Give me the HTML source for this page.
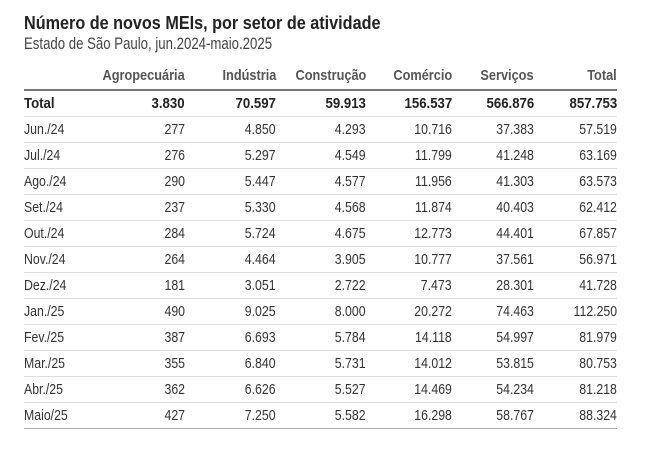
<!DOCTYPE html>
<html><head><meta charset="utf-8"><style>
body{margin:0;width:646px;height:452px;background:#fff;font-family:"Liberation Sans",sans-serif;color:#333;position:relative;overflow:hidden}
.t{position:absolute;left:24px;top:13px;font-size:18px;font-weight:bold;color:#222;transform:scaleX(.9);transform-origin:left}
.s{position:absolute;left:24px;top:35px;font-size:16.5px;color:#444;transform:scaleX(.8);transform-origin:left}
table{position:absolute;left:24px;top:62px;width:593px;border-collapse:collapse;font-size:15px;table-layout:fixed}
td,th{height:25px;padding:0;text-align:right;border-bottom:1px solid #ddd;white-space:nowrap}
th{color:#555;font-weight:bold;border-bottom:2px solid #777;height:27px;vertical-align:middle}
th div{display:flex;justify-content:flex-end}
td span,th span{display:inline-block;transform:scaleX(.82);transform-origin:right}
td:first-child span{transform-origin:left}
td:first-child,th:first-child{text-align:left}
tr.tot td{font-weight:bold;color:#222}
tr.tot td span{transform:scaleX(.88)}
th span{transform:scaleX(.85)}
tr:last-child td{border-bottom:1px solid #aaa}
</style></head><body>
<div class="t">Número de novos MEIs, por setor de atividade</div>
<div class="s">Estado de São Paulo, jun.2024-maio.2025</div>
<table>
<colgroup><col style="width:76px"><col style="width:85px"><col style="width:91px"><col style="width:90px"><col style="width:86px"><col style="width:82px"><col style="width:83px"></colgroup>
<tr><th></th><th><div><span>Agropecuária</span></div></th><th><div><span>Indústria</span></div></th><th><div><span>Construção</span></div></th><th><div><span>Comércio</span></div></th><th><div><span>Serviços</span></div></th><th><div><span>Total</span></div></th></tr>
<tr class="tot"><td><span>Total</span></td><td><span>3.830</span></td><td><span>70.597</span></td><td><span>59.913</span></td><td><span>156.537</span></td><td><span>566.876</span></td><td><span>857.753</span></td></tr>
<tr><td><span>Jun./24</span></td><td><span>277</span></td><td><span>4.850</span></td><td><span>4.293</span></td><td><span>10.716</span></td><td><span>37.383</span></td><td><span>57.519</span></td></tr>
<tr><td><span>Jul./24</span></td><td><span>276</span></td><td><span>5.297</span></td><td><span>4.549</span></td><td><span>11.799</span></td><td><span>41.248</span></td><td><span>63.169</span></td></tr>
<tr><td><span>Ago./24</span></td><td><span>290</span></td><td><span>5.447</span></td><td><span>4.577</span></td><td><span>11.956</span></td><td><span>41.303</span></td><td><span>63.573</span></td></tr>
<tr><td><span>Set./24</span></td><td><span>237</span></td><td><span>5.330</span></td><td><span>4.568</span></td><td><span>11.874</span></td><td><span>40.403</span></td><td><span>62.412</span></td></tr>
<tr><td><span>Out./24</span></td><td><span>284</span></td><td><span>5.724</span></td><td><span>4.675</span></td><td><span>12.773</span></td><td><span>44.401</span></td><td><span>67.857</span></td></tr>
<tr><td><span>Nov./24</span></td><td><span>264</span></td><td><span>4.464</span></td><td><span>3.905</span></td><td><span>10.777</span></td><td><span>37.561</span></td><td><span>56.971</span></td></tr>
<tr><td><span>Dez./24</span></td><td><span>181</span></td><td><span>3.051</span></td><td><span>2.722</span></td><td><span>7.473</span></td><td><span>28.301</span></td><td><span>41.728</span></td></tr>
<tr><td><span>Jan./25</span></td><td><span>490</span></td><td><span>9.025</span></td><td><span>8.000</span></td><td><span>20.272</span></td><td><span>74.463</span></td><td><span>112.250</span></td></tr>
<tr><td><span>Fev./25</span></td><td><span>387</span></td><td><span>6.693</span></td><td><span>5.784</span></td><td><span>14.118</span></td><td><span>54.997</span></td><td><span>81.979</span></td></tr>
<tr><td><span>Mar./25</span></td><td><span>355</span></td><td><span>6.840</span></td><td><span>5.731</span></td><td><span>14.012</span></td><td><span>53.815</span></td><td><span>80.753</span></td></tr>
<tr><td><span>Abr./25</span></td><td><span>362</span></td><td><span>6.626</span></td><td><span>5.527</span></td><td><span>14.469</span></td><td><span>54.234</span></td><td><span>81.218</span></td></tr>
<tr><td><span>Maio/25</span></td><td><span>427</span></td><td><span>7.250</span></td><td><span>5.582</span></td><td><span>16.298</span></td><td><span>58.767</span></td><td><span>88.324</span></td></tr>
</table>
</body></html>
